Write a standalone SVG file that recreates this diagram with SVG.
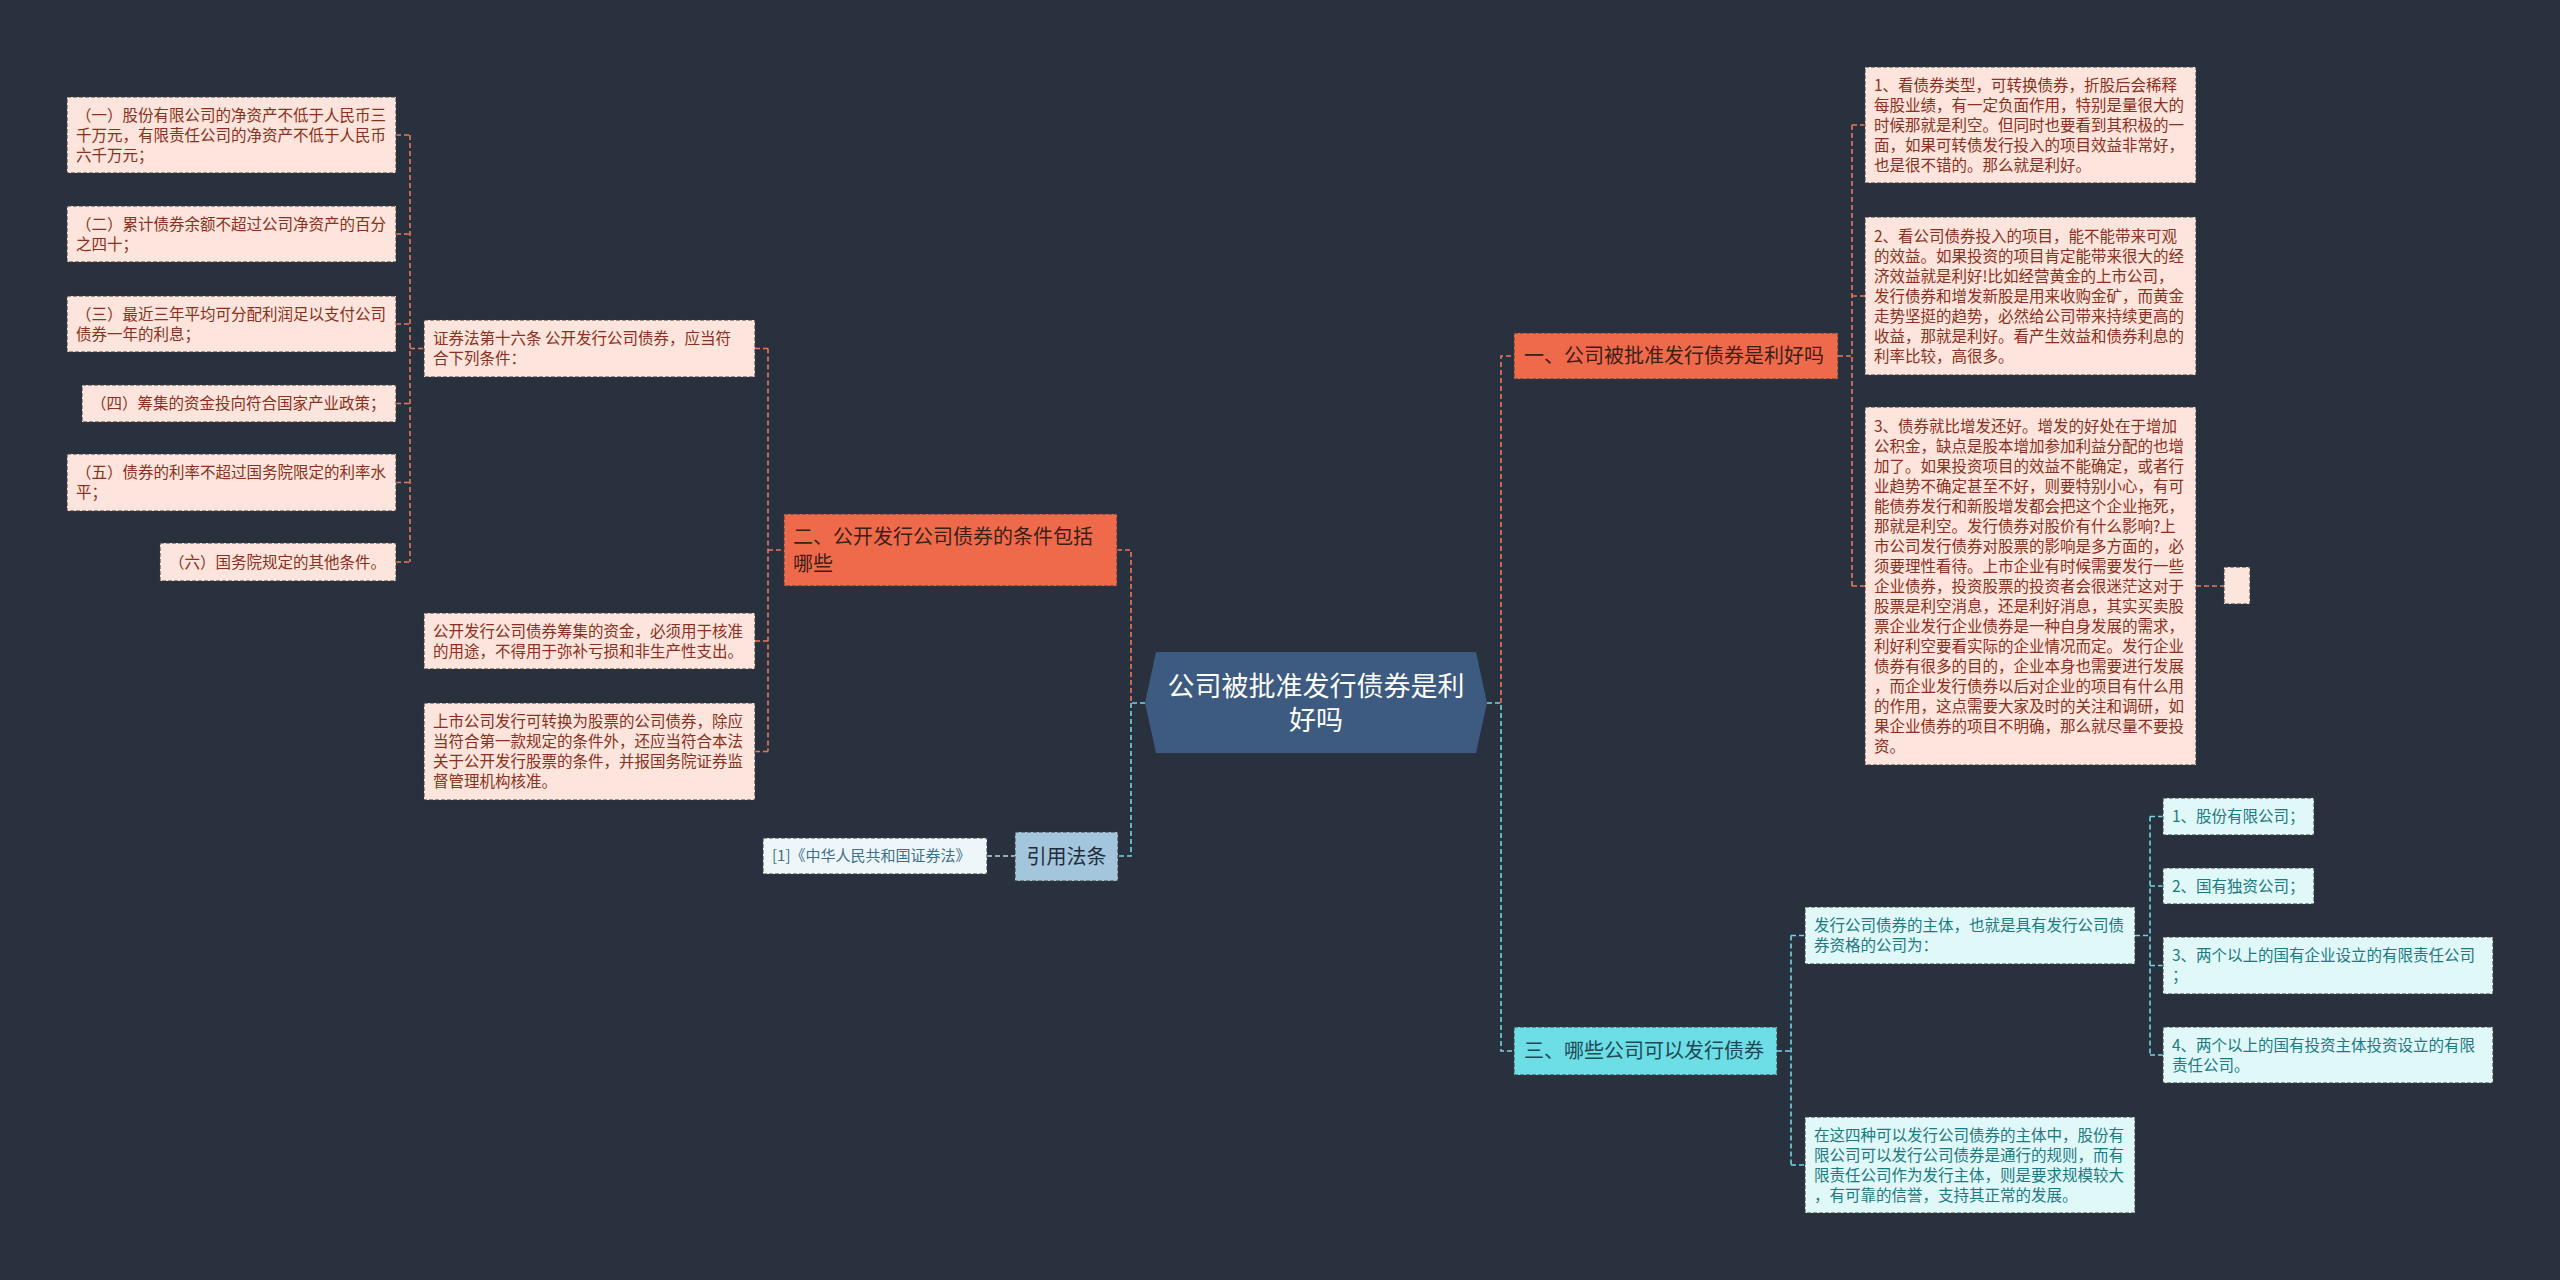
<svg xmlns="http://www.w3.org/2000/svg" width="2560" height="1280" viewBox="0 0 2560 1280">
<style>
text{font-family:"Noto Sans CJK SC","Noto Sans",sans-serif;}
.bd{stroke:#3a3a3a;stroke-width:1;stroke-dasharray:4 2;}
.pk{fill:#fde4dc;}
.pkt{font-size:15.5px;fill:#8b3020;}
.cy{fill:#e0f8f8;}
.cyt{font-size:15.5px;fill:#1b7a82;}
.or{fill:#ef6a4b;}
.ort{font-size:20px;fill:#3b2018;}
.cm{fill:#6ddde6;}
.cmt{font-size:20px;fill:#1e4a55;}
.c{fill:none;stroke-width:1.6;stroke-dasharray:5 3;}
.co{stroke:#e8775a;}
.cc{stroke:#74d4e4;}
.cb{stroke:#b8d8e8;}
</style>
<rect x="0" y="0" width="2560" height="1280" fill="#29313f"/>
<g id="connectors">
  <path class="c co" d="M396,135H410M396,234H410M396,324H410M396,403.5H410M396,482.5H410M396,562H410M410,135V562M410,348.5H424"/>
  <path class="c co" d="M755,348.5H768M755,641H768M755,751.5H768M768,348.5V751.5M768,550H784"/>
  <path class="c co" d="M1117,550H1131V703"/>
  <path class="c cc" d="M1131,703V856H1118M1145,703H1131"/>
  <path class="c cb" d="M987,856H1015"/>
  <path class="c cc" d="M1487,703H1501V1051H1514"/>
  <path class="c co" d="M1501,703V356H1514"/>
  <path class="c co" d="M1838,356H1852M1852,125V586M1852,125H1865M1852,296H1865M1852,586H1865"/>
  <path class="c co" d="M2196,586H2224"/>
  <path class="c cc" d="M1777,1051H1791M1791,935.5V1165M1791,935.5H1805M1791,1165H1805"/>
  <path class="c cc" d="M2135,935.5H2150M2150,816.5V1055M2150,816.5H2163M2150,886H2163M2150,965.5H2163M2150,1055H2163"/>
</g>
<g id="root">
  <polygon points="1156,652 1476,652 1487,703 1476,753 1156,753 1145,703" fill="#3d5a80"/>
  <text x="1316" text-anchor="middle" style="font-size:27px;fill:#ffffff"><tspan x="1316" y="695.7">公司被批准发行债券是利</tspan><tspan x="1316" y="729.7">好吗</tspan></text>
</g>
<g id="n-left-2">
  <rect class="or bd" x="784" y="514" width="333" height="72"/>
  <text class="ort"><tspan x="793" y="543.7">二、公开发行公司债券的条件包括</tspan><tspan x="793" y="570.7">哪些</tspan></text>
</g>
<g id="n-l1">
  <rect class="pk bd" x="67" y="97" width="329" height="76"/>
  <text class="pkt"><tspan x="76" y="120.5">（一）股份有限公司的净资产不低于人民币三</tspan><tspan x="76" y="140.5">千万元，有限责任公司的净资产不低于人民币</tspan><tspan x="76" y="160.5">六千万元；</tspan></text>
</g>
<g id="n-l2">
  <rect class="pk bd" x="67" y="206" width="329" height="56"/>
  <text class="pkt"><tspan x="76" y="229.5">（二）累计债券余额不超过公司净资产的百分</tspan><tspan x="76" y="249.5">之四十；</tspan></text>
</g>
<g id="n-l3">
  <rect class="pk bd" x="67" y="296" width="329" height="56"/>
  <text class="pkt"><tspan x="76" y="319.5">（三）最近三年平均可分配利润足以支付公司</tspan><tspan x="76" y="339.5">债券一年的利息；</tspan></text>
</g>
<g id="n-l4">
  <rect class="pk bd" x="82" y="385" width="314" height="37"/>
  <text class="pkt" x="91" y="409">（四）筹集的资金投向符合国家产业政策；</text>
</g>
<g id="n-l5">
  <rect class="pk bd" x="67" y="454" width="329" height="57"/>
  <text class="pkt"><tspan x="76" y="478">（五）债券的利率不超过国务院限定的利率水</tspan><tspan x="76" y="498">平；</tspan></text>
</g>
<g id="n-l6">
  <rect class="pk bd" x="160" y="543" width="236" height="38"/>
  <text class="pkt" x="169" y="567.5">（六）国务院规定的其他条件。</text>
</g>
<g id="n-m1">
  <rect class="pk bd" x="424" y="320" width="331" height="57"/>
  <text class="pkt"><tspan x="433" y="344">证券法第十六条 公开发行公司债券，应当符</tspan><tspan x="433" y="364">合下列条件：</tspan></text>
</g>
<g id="n-m2">
  <rect class="pk bd" x="424" y="613" width="331" height="56"/>
  <text class="pkt"><tspan x="433" y="636.5">公开发行公司债券筹集的资金，必须用于核准</tspan><tspan x="433" y="656.5">的用途，不得用于弥补亏损和非生产性支出。</tspan></text>
</g>
<g id="n-m3">
  <rect class="pk bd" x="424" y="703" width="331" height="97"/>
  <text class="pkt"><tspan x="433" y="727">上市公司发行可转换为股票的公司债券，除应</tspan><tspan x="433" y="747">当符合第一款规定的条件外，还应当符合本法</tspan><tspan x="433" y="767">关于公开发行股票的条件，并报国务院证券监</tspan><tspan x="433" y="787">督管理机构核准。</tspan></text>
</g>
<g id="n-cite">
  <rect class="bd" x="1015" y="832" width="103" height="49" fill="#a3c6dc"/>
  <text x="1066.5" y="863.7" text-anchor="middle" style="font-size:20px;fill:#1f2d3d">引用法条</text>
</g>
<g id="n-cite-1">
  <rect class="bd" x="763" y="838" width="224" height="36" fill="#eef6f9"/>
  <text x="772" y="861.4" style="font-size:15px;fill:#3d6f8e">[1]《中华人民共和国证券法》</text>
</g>
<g id="n-right-1">
  <rect class="or bd" x="1514" y="333" width="324" height="46"/>
  <text class="ort" x="1524" y="363.2">一、公司被批准发行债券是利好吗</text>
</g>
<g id="n-c1">
  <rect class="pk bd" x="1865" y="67" width="331" height="116"/>
  <text class="pkt"><tspan x="1874" y="90.5">1、看债券类型，可转换债券，折股后会稀释</tspan><tspan x="1874" y="110.5">每股业绩，有一定负面作用，特别是量很大的</tspan><tspan x="1874" y="130.5">时候那就是利空。但同时也要看到其积极的一</tspan><tspan x="1874" y="150.5">面，如果可转债发行投入的项目效益非常好，</tspan><tspan x="1874" y="170.5">也是很不错的。那么就是利好。</tspan></text>
</g>
<g id="n-c2">
  <rect class="pk bd" x="1865" y="217" width="331" height="158"/>
  <text class="pkt"><tspan x="1874" y="241.5">2、看公司债券投入的项目，能不能带来可观</tspan><tspan x="1874" y="261.5">的效益。如果投资的项目肯定能带来很大的经</tspan><tspan x="1874" y="281.5">济效益就是利好!比如经营黄金的上市公司，</tspan><tspan x="1874" y="301.5">发行债券和增发新股是用来收购金矿，而黄金</tspan><tspan x="1874" y="321.5">走势坚挺的趋势，必然给公司带来持续更高的</tspan><tspan x="1874" y="341.5">收益，那就是利好。看产生效益和债券利息的</tspan><tspan x="1874" y="361.5">利率比较，高很多。</tspan></text>
</g>
<g id="n-c3">
  <rect class="pk bd" x="1865" y="407" width="331" height="358"/>
  <text class="pkt"><tspan x="1874" y="431.5">3、债券就比增发还好。增发的好处在于增加</tspan><tspan x="1874" y="451.5">公积金，缺点是股本增加参加利益分配的也增</tspan><tspan x="1874" y="471.5">加了。如果投资项目的效益不能确定，或者行</tspan><tspan x="1874" y="491.5">业趋势不确定甚至不好，则要特别小心，有可</tspan><tspan x="1874" y="511.5">能债券发行和新股增发都会把这个企业拖死，</tspan><tspan x="1874" y="531.5">那就是利空。发行债券对股价有什么影响?上</tspan><tspan x="1874" y="551.5">市公司发行债券对股票的影响是多方面的，必</tspan><tspan x="1874" y="571.5">须要理性看待。上市企业有时候需要发行一些</tspan><tspan x="1874" y="591.5">企业债券，投资股票的投资者会很迷茫这对于</tspan><tspan x="1874" y="611.5">股票是利空消息，还是利好消息，其实买卖股</tspan><tspan x="1874" y="631.5">票企业发行企业债券是一种自身发展的需求，</tspan><tspan x="1874" y="651.5">利好利空要看实际的企业情况而定。发行企业</tspan><tspan x="1874" y="671.5">债券有很多的目的，企业本身也需要进行发展</tspan><tspan x="1874" y="691.5">，而企业发行债券以后对企业的项目有什么用</tspan><tspan x="1874" y="711.5">的作用，这点需要大家及时的关注和调研，如</tspan><tspan x="1874" y="731.5">果企业债券的项目不明确，那么就尽量不要投</tspan><tspan x="1874" y="751.5">资。</tspan></text>
</g>
<g id="n-c3-1">
  <rect class="pk bd" x="2224" y="567" width="26" height="37"/>
</g>
<g id="n-right-3">
  <rect class="cm bd" x="1514" y="1027" width="263" height="48"/>
  <text class="cmt" x="1524" y="1058.2">三、哪些公司可以发行债券</text>
</g>
<g id="n-d1">
  <rect class="cy bd" x="1805" y="907" width="330" height="57"/>
  <text class="cyt"><tspan x="1814" y="931">发行公司债券的主体，也就是具有发行公司债</tspan><tspan x="1814" y="951">券资格的公司为：</tspan></text>
</g>
<g id="n-d2">
  <rect class="cy bd" x="1805" y="1117" width="330" height="96"/>
  <text class="cyt"><tspan x="1814" y="1140.5">在这四种可以发行公司债券的主体中，股份有</tspan><tspan x="1814" y="1160.5">限公司可以发行公司债券是通行的规则，而有</tspan><tspan x="1814" y="1180.5">限责任公司作为发行主体，则是要求规模较大</tspan><tspan x="1814" y="1200.5">，有可靠的信誉，支持其正常的发展。</tspan></text>
</g>
<g id="n-e1">
  <rect class="cy bd" x="2163" y="798" width="151" height="37"/>
  <text class="cyt" x="2172" y="822">1、股份有限公司；</text>
</g>
<g id="n-e2">
  <rect class="cy bd" x="2163" y="868" width="151" height="36"/>
  <text class="cyt" x="2172" y="891.5">2、国有独资公司；</text>
</g>
<g id="n-e3">
  <rect class="cy bd" x="2163" y="937" width="330" height="57"/>
  <text class="cyt"><tspan x="2172" y="961">3、两个以上的国有企业设立的有限责任公司</tspan><tspan x="2172" y="981">；</tspan></text>
</g>
<g id="n-e4">
  <rect class="cy bd" x="2163" y="1027" width="330" height="56"/>
  <text class="cyt"><tspan x="2172" y="1050.5">4、两个以上的国有投资主体投资设立的有限</tspan><tspan x="2172" y="1070.5">责任公司。</tspan></text>
</g>
</svg>
